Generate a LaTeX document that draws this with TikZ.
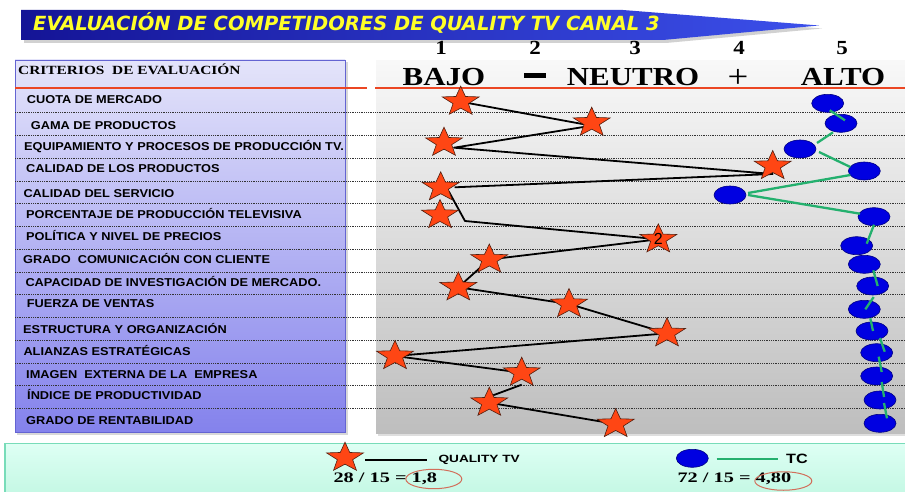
\documentclass[tikz,border=0pt]{standalone}
\usepackage{fontspec}
\setmainfont{Liberation Serif}
\setsansfont{Liberation Sans}
\newfontfamily\titlefont{DejaVu Sans}
\usetikzlibrary{shapes.geometric}
\pgfdeclarelayer{back}
\pgfdeclarelayer{mid}
\pgfsetlayers{back,mid,main}
\definecolor{starred}{RGB}{255,70,20}
\definecolor{stardark}{RGB}{80,30,15}
\definecolor{tcblue}{RGB}{0,0,225}
\definecolor{tcdark}{RGB}{0,0,130}
\definecolor{tcgreen}{RGB}{36,176,110}
\definecolor{redline}{RGB}{235,70,35}
\definecolor{lavtop}{RGB}{228,228,250}
\definecolor{lavbot}{RGB}{132,130,236}
\definecolor{lavedge}{RGB}{100,100,210}
\definecolor{graytop}{RGB}{248,248,248}
\definecolor{graybot}{RGB}{190,190,190}
\definecolor{mint}{RGB}{196,248,228}
\definecolor{mintlight}{RGB}{222,255,244}
\definecolor{mintedge}{RGB}{120,220,185}
\definecolor{bannerdark}{RGB}{20,20,150}
\definecolor{bannerlight}{RGB}{60,80,235}
\definecolor{titleyellow}{RGB}{255,255,40}
\definecolor{ovalred}{RGB}{210,110,90}
\begin{document}
\begin{tikzpicture}[x=1pt,y=-1pt,
  starnode/.style={star, star points=5, star point ratio=2.4, minimum size=31, inner sep=0, fill=starred, draw=stardark, line width=0.6, xscale=1.25},
  tcnode/.style={ellipse, minimum width=32, minimum height=18, inner sep=0, fill=tcblue, draw=tcdark, line width=0.6},
  qline/.style={black, line width=1.8},
  tline/.style={tcgreen, line width=2.3},
  rowtext/.style={font=\sffamily\bfseries\fontsize{11.4}{13}\selectfont, anchor=base west, inner sep=0, xscale=1.12},
  sepline/.style={line width=0.7, dash pattern=on 0.9pt off 0.9pt, black!80},
  hdrnum/.style={font=\bfseries\fontsize{20}{22}\selectfont, inner sep=0, anchor=base, xscale=1.15},
  hdrword/.style={font=\bfseries\fontsize{26}{28}\selectfont, inner sep=0, anchor=base, xscale=1.19},
  ovalmark/.style={ellipse, draw=ovalred, line width=1, inner sep=0},
  scoretext/.style={font=\bfseries\fontsize{14.5}{16}\selectfont, inner sep=0, anchor=base west, xscale=1.4},
  legtext/.style={font=\sffamily\bfseries, inner sep=0, anchor=west}
]
\useasboundingbox (0,0) rectangle (905,492);
\begin{pgfonlayer}{back}
  \fill[white] (0,0) rectangle (905,492);
  % banner
  \fill[black!40, opacity=0.45] (24,13) -- (626,13) -- (822,28.5) -- (666,43) -- (24,43) -- cycle;
  \shade[left color=bannerdark, right color=bannerlight] (21,10) -- (623,10) -- (819,25.5) -- (663,40) -- (21,40) -- cycle;
  % left panel
  \fill[black!30, opacity=0.5] (17,62) rectangle (347.5,434.5);
  \shade[top color=lavtop, bottom color=lavbot] (15,60) rectangle (345,432);
  \draw[lavedge, line width=0.8] (15,60) rectangle (345,432);
  % chart panel
  \fill[black!25, opacity=0.5] (378,63) rectangle (905,435.5);
  \shade[top color=graytop, bottom color=graybot] (376,61) rectangle (905,433);
  % legend panel
  \shade[top color=mintlight, bottom color=mint] (5,443.3) rectangle (905,494);
  \draw[mintedge, line width=1.2] (5,443.3) rectangle (910,498);
  % red lines
  \draw[redline, line width=2] (15,88) -- (367,88);
  \draw[redline, line width=2] (375,88) -- (905,88);
  % dotted separators
  \foreach \k in {0,...,13} \draw[sepline] (15,{112.7+22.75*\k}) -- (905,{112.7+22.75*\k});
\end{pgfonlayer}

% title
\node[font=\titlefont\bfseries\itshape\fontsize{19.5}{21}\selectfont, text=titleyellow, anchor=base west, inner sep=0] (title) at (33,31) {EVALUACIÓN DE COMPETIDORES DE QUALITY TV CANAL 3};

% header of criteria
\node[font=\bfseries\fontsize{12.5}{14}\selectfont, anchor=base west, inner sep=0, xscale=1.23] (crit) at (18,74.3) {CRITERIOS\ \ DE EVALUACIÓN};

% scale header
\node[hdrnum] (n1) at (441,54.5) {1};
\node[hdrnum] (n2) at (535,54.5) {2};
\node[hdrnum] (n3) at (635,54.5) {3};
\node[hdrnum] (n4) at (739,54.5) {4};
\node[hdrnum] (n5) at (842,54.5) {5};
\node[hdrword] (bajo) at (444,86) {BAJO};
\node[inner sep=0] (minus) at (535,76) {\rule{22pt}{5pt}};
\node[hdrword] (neutro) at (633,86) {NEUTRO};
\node[font=\fontsize{32}{34}\selectfont, inner sep=0, anchor=base, xscale=1.15] (plus) at (738,87.5) {+};
\node[hdrword] (alto) at (843,86) {ALTO};

% criteria rows
\node[rowtext] (r1) at (26.7,103.3) {CUOTA DE MERCADO};
\node[rowtext] (r2) at (30.7,129.7) {GAMA DE PRODUCTOS};
\node[rowtext] (r3) at (24,150) {EQUIPAMIENTO Y PROCESOS DE PRODUCCIÓN TV.};
\node[rowtext] (r4) at (26,172.3) {CALIDAD DE LOS PRODUCTOS};
\node[rowtext] (r5) at (23.3,197.3) {CALIDAD DEL SERVICIO};
\node[rowtext] (r6) at (26,218) {PORCENTAJE DE PRODUCCIÓN TELEVISIVA};
\node[rowtext] (r7) at (26,240.7) {POLÍTICA Y NIVEL DE PRECIOS};
\node[rowtext] (r8) at (23,263.3) {GRADO\ \ COMUNICACIÓN CON CLIENTE};
\node[rowtext] (r9) at (25.3,286.7) {CAPACIDAD DE INVESTIGACIÓN DE MERCADO.};
\node[rowtext] (r10) at (26.7,307.3) {FUERZA DE VENTAS};
\node[rowtext] (r11) at (23,333) {ESTRUCTURA Y ORGANIZACIÓN};
\node[rowtext] (r12) at (23.3,355) {ALIANZAS ESTRATÉGICAS};
\node[rowtext] (r13) at (26,378) {IMAGEN\ \ EXTERNA DE LA\ \ EMPRESA};
\node[rowtext] (r14) at (27,399) {ÍNDICE DE PRODUCTIVIDAD};
\node[rowtext] (r15) at (26,424) {GRADO DE RENTABILIDAD};

% Quality TV stars
\node[starnode] (s1) at (460.7,101.7) {};
\node[starnode] (s2) at (591.7,122.7) {};
\node[starnode] (s3) at (444,142.7) {};
\node[starnode] (s4) at (772.7,166) {};
\node[starnode] (s5) at (440.7,187.3) {};
\node[starnode] (s6) at (440,215) {};
\node[starnode, label={[font=\sffamily\fontsize{16}{16}\selectfont, inner sep=0]center:2}] (s7) at (658.3,239.3) {};
\node[starnode] (s8) at (489.3,259.5) {};
\node[starnode] (s9) at (458.3,287.3) {};
\node[starnode] (s10) at (569,304) {};
\node[starnode] (s11) at (667,333.3) {};
\node[starnode] (s12) at (395,356) {};
\node[starnode] (s13) at (521.7,372.7) {};
\node[starnode] (s14) at (489.3,402.7) {};
\node[starnode] (s15) at (615.7,424) {};

\coordinate (c3) at ([shift={(10,5)}]s3.center);
\coordinate (bend) at ([shift={(25,6)}]s6.center);
\begin{pgfonlayer}{mid}
  \draw[qline, line join=round] (s1.center) -- ([shift={(0,3)}]s2.center) -- (c3) -- ([shift={(0,8)}]s4.center) -- ([shift={(14,0)}]s5.center);
  \draw[qline, line join=round] ([shift={(8,4)}]s5.center) -- (bend) -- (s7.center) -- (s8.center) -- (s9.center) -- (s10.center) -- (s11.center) -- (s12.center) -- (s13.center);
  \draw[qline] ([shift={(0,12)}]s13.center) -- ([shift={(0,-6)}]s14.center);
  \draw[qline] (s14.center) -- (s15.center);
\end{pgfonlayer}

% TC ellipses
\node[tcnode] (e1) at (827.7,103.3) {};
\node[tcnode] (e2) at (841,123.3) {};
\node[tcnode] (e3) at (800,149) {};
\node[tcnode] (e4) at (864.3,171) {};
\node[tcnode] (e5) at (730,195) {};
\node[tcnode] (e6) at (874,216.7) {};
\node[tcnode] (e7) at (856.7,245.7) {};
\node[tcnode] (e8) at (864.3,264.3) {};
\node[tcnode] (e9) at (872.7,286) {};
\node[tcnode] (e10) at (864.3,309.3) {};
\node[tcnode] (e11) at (872,331) {};
\node[tcnode] (e12) at (876.7,352.7) {};
\node[tcnode] (e13) at (876.7,376) {};
\node[tcnode] (e14) at (880,400) {};
\node[tcnode] (e15) at (880,423.3) {};

\draw[tline] ([shift={(2,7)}]e1.center) -- ([shift={(4,-3)}]e2.center);
\draw[tline] ([shift={(-8,9)}]e2.center) -- ([shift={(17,-6)}]e3.center);
\draw[tline] ([shift={(19,3)}]e3.center) -- ([shift={(-14,-4)}]e4.center);
\draw[tline] ([shift={(-14,4)}]e4.center) -- ([shift={(18,-2)}]e5.center);
\draw[tline] ([shift={(18,0)}]e5.center) -- ([shift={(-14,-3)}]e6.center);
\draw[tline] ([shift={(0,8)}]e6.center) -- ([shift={(10,-2)}]e7.center);
\draw[tline] ([shift={(9,6)}]e8.center) -- ([shift={(5,0)}]e9.center);
\draw[tline] ([shift={(1,11)}]e9.center) -- ([shift={(1,0)}]e10.center);
\draw[tline] ([shift={(6,9)}]e10.center) -- ([shift={(1,0)}]e11.center);
\draw[tline] ([shift={(8,7)}]e11.center) -- ([shift={(8,-1)}]e12.center);
\draw[tline] ([shift={(2,4)}]e12.center) -- ([shift={(5,-4)}]e13.center);
\draw[tline] ([shift={(5,6)}]e13.center) -- ([shift={(4,-3)}]e14.center);
\draw[tline] ([shift={(4,3)}]e14.center) -- ([shift={(7,-5)}]e15.center);

% legend
\node[starnode] (ls) at (345,457.7) {};
\coordinate (lqa) at (365,460);
\coordinate (lqb) at (427,460);
\draw[qline, line width=2.6] (lqa) -- (lqb);
\node[legtext, font=\sffamily\bfseries\fontsize{10.5}{12}\selectfont, xscale=1.3] (lq) at (438.3,460) {QUALITY TV};
\node[scoretext] (sq) at (333.3,482.7) {28 / 15 = 1,8};
\node[ovalmark, minimum width=56, minimum height=19.4] (oq) at (433.8,479) {};

\node[tcnode] (le) at (692.3,458.3) {};
\coordinate (lta) at (716.7,459.3);
\coordinate (ltb) at (778.3,459.3);
\draw[tline] (lta) -- (ltb);
\node[legtext, font=\sffamily\bfseries\fontsize{13.5}{15}\selectfont, xscale=1.2] (lt) at (786,459.3) {TC};
\node[scoretext] (st) at (677.3,482.7) {72 / 15 = 4,80};
\node[ovalmark, minimum width=57, minimum height=18.5] (ot) at (783.3,481) {};
\end{tikzpicture}
\end{document}
